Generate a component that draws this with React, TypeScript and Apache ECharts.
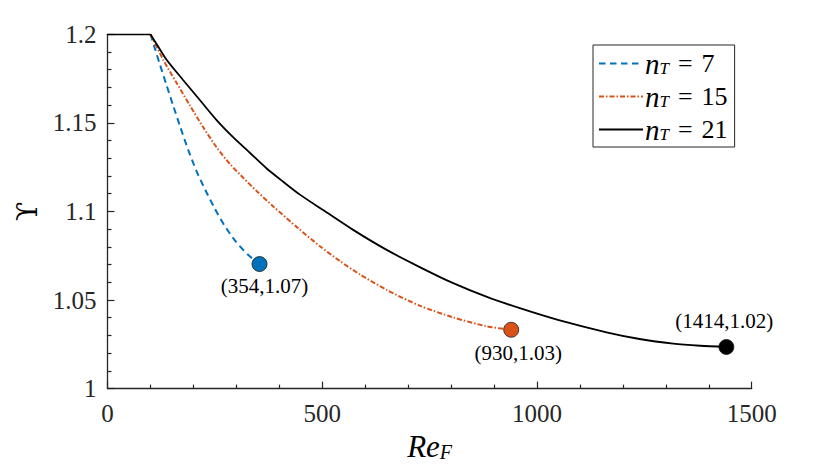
import React, { useEffect, useRef } from "react";
import * as echarts from "echarts";

const plateauX = [0, 100];
const plateauY = [1.2, 1.2];

const blueX = [100, 110, 122, 137, 153, 168, 188, 207, 227, 250, 272, 297, 326, 354];
const blueY = [1.2, 1.1922, 1.183, 1.1716, 1.1597, 1.1487, 1.1347, 1.1229, 1.1125, 1.1015, 1.0922, 1.0835, 1.0758, 1.0703];

const orangeX = [100, 130, 161, 192, 223, 254, 285, 316, 347, 386, 444, 494, 541, 588, 650, 727, 805, 882, 929, 940];
const orangeY = [1.2, 1.1855, 1.1725, 1.1598, 1.1475, 1.1362, 1.1268, 1.119, 1.1116, 1.1028, 1.0905, 1.0805, 1.072, 1.0644, 1.0557, 1.0468, 1.0402, 1.0352, 1.0335, 1.0332];

const blackX = [100, 118, 138, 176, 215, 254, 293, 332, 370, 409, 448, 502, 572, 650, 727, 805, 882, 960, 1053, 1162, 1239, 1317, 1380, 1441];
const blackY = [1.2, 1.1931, 1.1855, 1.1742, 1.1629, 1.1516, 1.1418, 1.133, 1.1244, 1.1168, 1.1095, 1.1008, 1.0896, 1.0783, 1.0686, 1.0595, 1.0519, 1.0454, 1.0385, 1.0318, 1.028, 1.0254, 1.0242, 1.0235];

const seriesNT = ["7", "15", "21"];
const seriesColors = ["#0072BD", "#D95319", "#000000"];

const pointX = [354, 940, 1441];
const pointY = [1.0703, 1.0332, 1.0235];
const pointLabels = ["(354,1.07)", "(930,1.03)", "(1414,1.02)"];

const yTickLabels = ["1", "1.05", "1.1", "1.15", "1.2"];
const xTickLabels = ["0", "500", "1000", "1500"];

const SERIF = "'Liberation Serif', 'DejaVu Serif', serif";
const AX = "#262626";

function zip(xs: number[], ys: number[]) {
  return xs.map((x, i) => [x, ys[i]]);
}

export default function App() {
  const ref = useRef<HTMLDivElement>(null);
  useEffect(() => {
    if (!ref.current) return;
    const chart = echarts.init(ref.current, undefined, { renderer: "svg" });
    const lines = [blueX, orangeX, blackX];
    const ys = [blueY, orangeY, blackY];
    const dashes: any[] = [[6.5, 4.5], [5, 2, 1.5, 2], "solid"];
    const labelPos = ["bottom", "bottom", "top"];
    const labelDist = [4, 5, 8];
    const labelOff = [[5, 0], [7, 0], [-2, 0]];
    const option: any = {
      animation: false,
      grid: { left: 107.5, right: 78.3, top: 34.3, bottom: 78.3, containLabel: false },
      legend: {
        data: seriesNT.map((v) => `n_T = ${v}`),
        orient: "vertical",
        left: 593,
        top: 45,
        padding: [4, 7, 3, 5],
        itemWidth: 44,
        itemHeight: 14,
        itemGap: 4,
        borderColor: "#262626",
        borderWidth: 1,
        backgroundColor: "#fff",
        itemStyle: { opacity: 0, color: "rgba(0,0,0,0)", borderWidth: 0 },
        formatter: (name: string) => `{i|n}{s|T}{e|=}{r|${name.split("= ")[1]}}`,
        textStyle: {
          fontFamily: SERIF,
          color: "#000",
          padding: [0, 0, 0, -3],
          rich: {
            i: { fontFamily: SERIF, fontStyle: "italic", fontSize: 29, lineHeight: 28, color: "#000" },
            s: { fontFamily: SERIF, fontStyle: "italic", fontSize: 17, padding: [10, 0, 0, 0], color: "#000" },
            e: { fontFamily: SERIF, fontSize: 26, lineHeight: 28, padding: [0, 9, 0, 9], color: "#000" },
            r: { fontFamily: SERIF, fontSize: 26, lineHeight: 28, color: "#000" },
          },
        },
      },
      xAxis: {
        type: "value",
        min: 0,
        max: 1500,
        interval: 500,
        name: "{i|Re}{s|F}",
        nameLocation: "middle",
        nameGap: 40,
        nameTextStyle: {
          rich: {
            i: { fontFamily: SERIF, fontStyle: "italic", fontSize: 31, color: "#000" },
            s: { fontFamily: SERIF, fontStyle: "italic", fontSize: 20, color: "#000", padding: [12, 0, 0, 0] },
          },
        },
        axisLine: { show: true, onZero: false, lineStyle: { color: AX, width: 1.3 } },
        axisTick: { show: true, inside: true, length: 7, lineStyle: { color: AX, width: 1.2 } },
        minorTick: { show: true, splitNumber: 5, length: 4, lineStyle: { color: AX, width: 1.2 } },
        splitLine: { show: false },
        axisLabel: {
          fontFamily: SERIF,
          fontSize: 25,
          color: AX,
          margin: 12,
          formatter: (v: number) => xTickLabels[Math.round(v / 500)] ?? "",
        },
      },
      yAxis: {
        type: "value",
        min: 1,
        max: 1.2,
        interval: 0.05,
        name: "ϒ",
        nameLocation: "middle",
        nameRotate: 90,
        nameGap: 66,
        nameTextStyle: { fontFamily: "'DejaVu Serif', serif", fontSize: 28, color: "#000" },
        axisLine: { show: true, onZero: false, lineStyle: { color: AX, width: 1.3 } },
        axisTick: { show: true, inside: true, length: 7, lineStyle: { color: AX, width: 1.2 } },
        minorTick: { show: true, splitNumber: 5, length: 4, lineStyle: { color: AX, width: 1.2 } },
        splitLine: { show: false },
        axisLabel: {
          fontFamily: SERIF,
          fontSize: 25,
          color: AX,
          margin: 11,
          formatter: (v: number) => yTickLabels[Math.round((v - 1) / 0.05)] ?? "",
        },
      },
      series: [
        {
          type: "line",
          name: "plateau",
          data: zip(plateauX, plateauY),
          showSymbol: false,
          symbol: "none",
          z: 6,
          lineStyle: { color: "#000", width: 1.8 },
        },
        ...lines.map((xs, k) => ({
          type: "line",
          name: `n_T = ${seriesNT[k]}`,
          data: zip(xs, ys[k]),
          showSymbol: false,
          symbol: "none",
          smooth: 0.25,
          z: 2 + k,
          lineStyle: { color: seriesColors[k], width: k === 2 ? 1.8 : 2, type: dashes[k] },
          itemStyle: { color: seriesColors[k] },
        })),
        {
          type: "scatter",
          name: "points",
          z: 10,
          symbolSize: 15,
          itemStyle: { opacity: 1 },
          data: pointX.map((x, k) => ({
            value: [x, pointY[k]],
            itemStyle: { color: seriesColors[k], borderColor: "#1a1a1a", borderWidth: 0.8, opacity: 1 },
            label: {
              show: true,
              position: labelPos[k],
              distance: labelDist[k],
              offset: labelOff[k],
              formatter: pointLabels[k],
              fontFamily: SERIF,
              fontSize: 21,
              color: "#000",
              opacity: 1,
            },
          })),
        },
      ],
    };
    chart.setOption(option);
    return () => chart.dispose();
  }, []);
  return <div ref={ref} style={{ position: "absolute", left: 0, top: 0, width: 830, height: 467 }} />;
}
